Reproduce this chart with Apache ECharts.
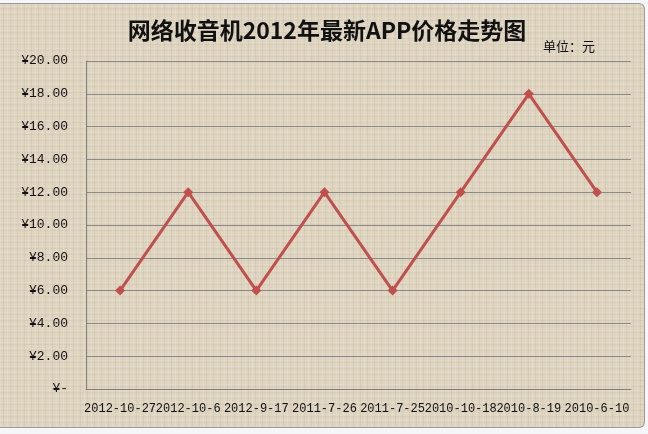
<!DOCTYPE html>
<html>
<head>
<meta charset="utf-8">
<script src="https://cdn.jsdelivr.net/npm/echarts@6/dist/echarts.min.js"></script>
<style>
html,body{margin:0;padding:0;background:#f4f6f8;}
#wrap{position:absolute;left:0;top:3px;width:645px;height:425px;box-sizing:border-box;border:1px solid #9a9a9a;border-left:none;border-radius:0 6px 6px 0;
background-color:#ded4c0;
background-image:
repeating-linear-gradient(90deg, rgba(255,255,255,0.12) 0px, rgba(255,255,255,0.12) 1px, rgba(0,0,0,0) 1px, rgba(0,0,0,0) 3px, rgba(120,100,70,0.07) 3px, rgba(120,100,70,0.07) 4px, rgba(0,0,0,0) 4px, rgba(0,0,0,0) 7px),
repeating-linear-gradient(0deg, rgba(255,255,255,0.10) 0px, rgba(255,255,255,0.10) 1px, rgba(0,0,0,0) 1px, rgba(0,0,0,0) 4px, rgba(120,100,70,0.07) 4px, rgba(120,100,70,0.07) 5px, rgba(0,0,0,0) 5px, rgba(0,0,0,0) 6px);}
#chart{position:absolute;left:0;top:0;width:648px;height:434px;}
</style>
</head>
<body>
<div id="wrap"></div>
<div id="chart"></div>
<script>
var titleText = '网络收音机2012年最新APP价格走势图';
var unitText = '单位：元';
var categories = ['2012-10-27','2012-10-6','2012-9-17','2011-7-26','2011-7-25','2010-10-18','2010-8-19','2010-6-10'];
var prices = [6, 12, 6, 12, 6, 12, 18, 12];
var yMin = 0, yMax = 20, yStep = 2;

var chart = echarts.init(document.getElementById('chart'), null, {renderer:'canvas'});
chart.setOption({
  backgroundColor: 'transparent',
  animation: false,
  title: [{
    text: titleText, left: 322, top: 14, textAlign: 'center',
    textStyle: {fontFamily: '"Noto Sans CJK SC", sans-serif', fontSize: 23, fontWeight: 'bold', color: '#111'}
  },{
    text: unitText, left: 538, top: 35,
    textStyle: {fontFamily: '"Noto Sans CJK SC", sans-serif', fontSize: 13, fontWeight: 'normal', color: '#111'}
  }],
  grid: {left: 86, right: 17, top: 61, bottom: 45},
  xAxis: {
    type: 'category', data: categories, boundaryGap: true,
    axisLine: {lineStyle: {color: '#7f7f7f', width: 1}},
    axisTick: {show: false},
    axisLabel: {interval: 0, margin: 14, color: '#111', fontSize: 12, fontFamily: '"Liberation Mono", monospace'}
  },
  yAxis: {
    type: 'value', min: yMin, max: yMax, interval: yStep,
    axisLine: {show: true, lineStyle: {color: '#7f7f7f', width: 1}},
    axisTick: {show: false},
    splitLine: {lineStyle: {color: '#8a8a8a', width: 1}},
    axisLabel: {margin: 18, color: '#111', fontSize: 13, fontFamily: '"Liberation Mono", monospace',
      formatter: function(v){ return v === 0 ? '¥-' : '¥' + v.toFixed(2); }}
  },
  series: [{
    type: 'line', data: prices,
    symbol: 'diamond', symbolSize: 10,
    lineStyle: {color: '#c0504d', width: 3},
    itemStyle: {color: '#c0504d'}
  }]
});
</script>
</body>
</html>
